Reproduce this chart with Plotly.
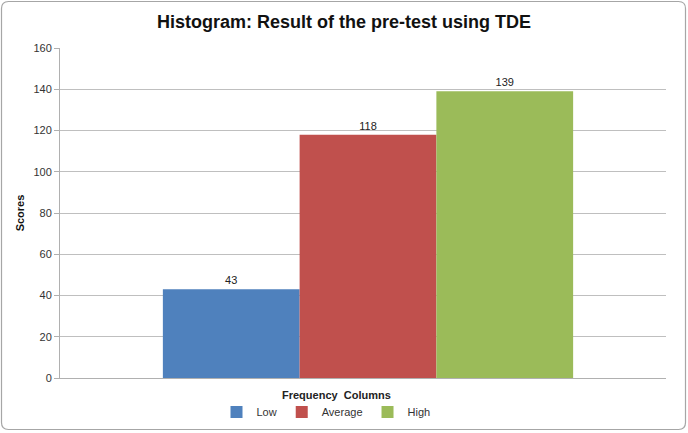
import plotly.graph_objects as go

categories = ["Frequency Columns"]
series_names = ["Low", "Average", "High"]
series_values = [43, 118, 139]
series_colors = ["#4F81BD", "#C0504D", "#9BBB59"]
y_ticks = [0, 20, 40, 60, 80, 100, 120, 140, 160]

W, H = 688, 433
ml, mr, mt, mb = 60, 22, 48, 55
pw, ph = W - ml - mr, H - mt - mb

fig = go.Figure()
for name, val, col in zip(series_names, series_values, series_colors):
    fig.add_trace(go.Bar(
        x=categories, y=[val], name=name, marker=dict(color=col, line=dict(width=0)),
        text=[str(val)], textposition="outside", cliponaxis=False,
        textfont=dict(size=11, color="#222222", family="Liberation Sans"),
    ))

# rounded border in paper coords
def px(x):
    return (x - ml) / pw
def py(y):
    return (H - mb - y) / ph
x0, x1, y0, y1, r = 1.5, W - 2.5, 1.5, H - 3.5, 7
path = (f"M {px(x0+r)},{py(y0)} L {px(x1-r)},{py(y0)} Q {px(x1)},{py(y0)} {px(x1)},{py(y0+r)} "
        f"L {px(x1)},{py(y1-r)} Q {px(x1)},{py(y1)} {px(x1-r)},{py(y1)} "
        f"L {px(x0+r)},{py(y1)} Q {px(x0)},{py(y1)} {px(x0)},{py(y1-r)} "
        f"L {px(x0)},{py(y0+r)} Q {px(x0)},{py(y0)} {px(x0+r)},{py(y0)} Z")

shift = 5 / pw  # group sits slightly right of the plot centre

fig.update_layout(
    width=W, height=H,
    margin=dict(l=ml, r=mr, t=mt, b=mb, autoexpand=False),
    paper_bgcolor="white", plot_bgcolor="white",
    barmode="group", bargap=0.323, bargroupgap=0,
    font=dict(family="Liberation Sans", size=11, color="#333333"),
    title=dict(text="<b>Histogram: Result of the pre-test using TDE</b>",
               x=0.5, xanchor="center", y=1 - 22 / H, yanchor="middle",
               font=dict(size=18, color="#111111", family="Liberation Sans")),
    showlegend=True,
    legend=dict(orientation="h", x=px(326), xanchor="center", yref="container",
                y=1 - 412 / H, yanchor="middle",
                font=dict(size=11, color="#333333"), itemwidth=30, tracegroupgap=0,
                itemclick=False),
    xaxis=dict(showticklabels=False, showgrid=False, showline=True, linecolor="#B0B0B0",
               linewidth=1, ticks="", automargin=False,
               range=[-0.5 - shift, 0.5 - shift]),
    yaxis=dict(range=[0, 160], tickvals=y_ticks, showgrid=True, gridcolor="#BFBFBF", gridwidth=1,
               showline=True, linecolor="#B0B0B0", linewidth=1, ticks="outside", ticklen=5,
               tickcolor="#B0B0B0", zeroline=False, automargin=False,
               tickfont=dict(size=11, color="#333333"),
               title=dict(text="<b>Scores</b>", standoff=6, font=dict(size=11, color="#111111"))),
    annotations=[dict(text="<b>Frequency  Columns</b>", xref="paper", yref="paper",
                      x=px(336), y=py(395), xanchor="center", yanchor="middle",
                      showarrow=False, font=dict(size=11, color="#222222"))],
    shapes=[dict(type="path", path=path, xref="paper", yref="paper",
                 line=dict(color="#A6A6A6", width=1.2), layer="below")],
)

fig.write_html("out.html", config={"displayModeBar": False},
               post_script="document.body.style.margin='0';")
